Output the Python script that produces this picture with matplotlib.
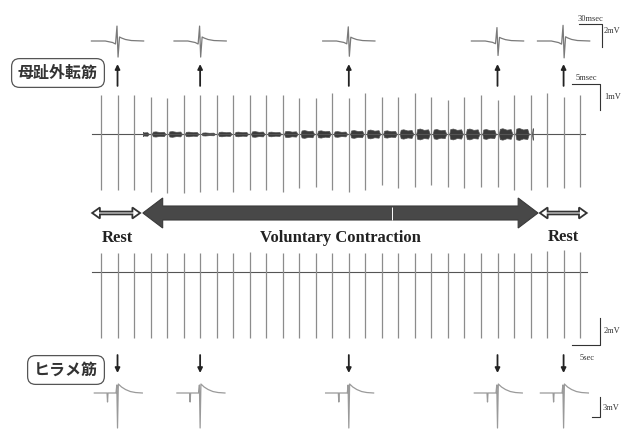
import matplotlib.pyplot as plt
import numpy as np
from matplotlib.patches import Polygon

plt.rcParams['font.family'] = ['Liberation Serif', 'DejaVu Serif']

W, H = 621, 430

# ---------------- data ----------------
# stimulus times (s), one every ~3 s
stim_times = [0, 3, 6, 9, 12, 15, 18, 21, 24, 27, 30, 33, 36, 39, 42,
              45, 48, 51, 54, 57, 60, 63, 66, 69, 72, 75, 78, 81, 84, 87]

# abductor hallucis (top trace): stimulus artefact size (mV)
ah_up = [1.50, 1.50, 1.50, 1.42, 1.38, 1.50, 1.50, 1.50, 1.50, 1.50,
         1.50, 1.50, 1.38, 1.38, 1.58, 1.38, 1.58, 1.42, 1.42, 1.58,
         1.42, 1.31, 1.42, 1.50, 1.31, 1.50, 1.50, 1.58, 1.42, 1.50]
ah_down = [2.15, 2.15, 2.15, 2.23, 2.27, 2.27, 2.23, 2.15, 2.23, 2.15,
           2.15, 2.23, 2.08, 2.04, 2.15, 2.23, 2.15, 1.96, 2.08, 2.04,
           1.96, 2.04, 2.08, 2.04, 2.04, 2.15, 2.15, 2.04, 2.08, 2.04]

# soleus (bottom trace): stimulus artefact size (mV)
sol_up = [1.40, 1.40, 1.40, 1.40, 1.40, 1.40, 1.40, 1.40, 1.40, 1.50,
          1.40, 1.40, 1.40, 1.40, 1.40, 1.40, 1.40, 1.40, 1.40, 1.40,
          1.40, 1.40, 1.40, 1.40, 1.40, 1.40, 1.40, 1.55, 1.60, 1.45]
sol_down = [4.90, 4.90, 4.90, 4.90, 4.90, 4.90, 4.90, 4.90, 4.90, 4.90,
            4.90, 4.90, 4.90, 4.90, 4.90, 4.90, 4.90, 4.90, 4.90, 4.90,
            4.90, 4.90, 4.90, 4.90, 4.90, 4.90, 4.90, 4.90, 4.90, 4.90]

# voluntary contraction period (s) and EMG envelope per stimulus interval (mV)
contraction = (7.6, 78.4)
emg_first_interval = 2
emg_env = [0.08, 0.10, 0.11, 0.09, 0.06, 0.09, 0.09, 0.11, 0.09, 0.12,
           0.15, 0.14, 0.11, 0.15, 0.17, 0.14, 0.18, 0.21, 0.19, 0.21,
           0.21, 0.19, 0.22, 0.23, 0.22]
burst_frac = [0.08, 0.14, 0.3, 0.55, 0.8, 0.9]
burst_shape = [0.0, 0.9, 1.0, 0.75, 0.85, 0.0]

# stimuli whose single responses are shown enlarged
wave_stims = [1, 6, 15, 24, 28]

# abductor hallucis M-wave (ms, mV)
ah_ms = [-34, -16, -6.5, -2.6, -0.7, 0.7, 2.6, 5.2, 10.4, 18, 34]
ah_mv = [0, 0, -0.13, -0.26, 1.3, -1.4, 0.35, 0.26, 0.13, 0.04, 0]
ah_gain = [1.0, 1.0, 0.95, 0.9, 1.05]

# soleus response (ms, mV)
sol_ms = [-29, -13.1, -12.5, -11.9, -1.9, -0.9, 0, 1.0, 5, 10, 16, 22.5, 31]
sol_mv = [0, 0, -1.35, 0, 0, 1.2, -5.25, 1.35, 0.9, 0.52, 0.22, 0.07, 0]
sol_gain = [1.0, 1.0, 1.0, 1.0, 1.0]

# ---------------- figure ----------------
fig = plt.figure(figsize=(W / 100, H / 100), dpi=100)


def px_axes(left, top, right, bottom):
    ax = fig.add_axes([left / W, 1 - bottom / H, (right - left) / W, (bottom - top) / H])
    ax.axis('off')
    return ax


def double_arrow(ax, x0, x1, y, body, head, hlen, fc, ec, lw):
    xs = [x0, x0 + hlen, x0 + hlen, x1 - hlen, x1 - hlen, x1, x1 - hlen, x1 - hlen, x0 + hlen, x0 + hlen]
    ys = [y, y - head, y - body, y - body, y - head, y, y + head, y + body, y + body, y + head]
    ax.add_patch(Polygon(list(zip(xs, ys)), closed=True, fc=fc, ec=ec, lw=lw, joinstyle='miter'))


t_lim = (-101 / 5.507, (W - 101) / 5.507)
small = dict(fontsize=6, color='#333333')

# top trace
ax_top = px_axes(0, 75, W, 195)
ax_top.set_xlim(t_lim)
ax_top.set_ylim(-2.35, 2.27)
ax_top.plot([-1.6, 87.9], [0, 0], color='#555555', lw=0.8)
for k, env in enumerate(emg_env):
    t0 = stim_times[emg_first_interval + k]
    tt = np.clip([t0 + f * 3 for f in burst_frac], *contraction)
    yy = np.array(burst_shape) * env
    ax_top.fill_between(tt, -yy, yy, color='#3a3a3a', lw=0.5, edgecolor='#555555')
ax_top.vlines(stim_times, [-d for d in ah_down], ah_up, color='#8c8c8c', lw=0.9)
for i in wave_stims:
    ax_top.annotate('', xy=(stim_times[i], 2.69), xytext=(stim_times[i], 1.85),
                    arrowprops=dict(arrowstyle='-|>', color='#222222', lw=1.3,
                                    mutation_scale=7, shrinkA=0, shrinkB=0),
                    annotation_clip=False)
ax_top.plot([85.6, 90.6, 90.6], [1.92, 1.92, 0.92], color='#333333', lw=0.8, clip_on=False)
ax_top.text(88.1, 2.0, '5msec', ha='center', va='bottom', **small)
ax_top.text(91.3, 1.42, '1mV', ha='left', va='center', **small)

# bottom trace
ax_bot = px_axes(0, 245, W, 380)
ax_bot.set_xlim(t_lim)
ax_bot.set_ylim(-8.0, 2.0)
ax_bot.plot([-1.6, 88.2], [0, 0], color='#555555', lw=0.8)
ax_bot.vlines(stim_times, [-d for d in sol_down], sol_up, color='#8c8c8c', lw=0.9)
for i in wave_stims:
    ax_bot.annotate('', xy=(stim_times[i], -7.48), xytext=(stim_times[i], -6.15),
                    arrowprops=dict(arrowstyle='-|>', color='#222222', lw=1.3,
                                    mutation_scale=7, shrinkA=0, shrinkB=0),
                    annotation_clip=False)
ax_bot.plot([85.6, 90.6, 90.6], [-5.41, -5.41, -3.41], color='#333333', lw=0.8, clip_on=False)
ax_bot.text(91.3, -4.4, '2mV', ha='left', va='center', **small)
ax_bot.text(88.3, -6.1, '5sec', ha='center', va='top', **small)

# middle: periods
ax_mid = px_axes(0, 195, W, 250)
ax_mid.set_xlim(t_lim)
ax_mid.set_ylim(55, 0)
double_arrow(ax_mid, -1.6, 7.1, 18, 1.4, 5.5, 1.4, 'white', '#333333', 1.3)
double_arrow(ax_mid, contraction[0], 79.35, 18, 7, 15, 3.6, '#484848', '#3a3a3a', 0.8)
double_arrow(ax_mid, 79.7, 88.2, 18, 1.4, 5.5, 1.4, 'white', '#333333', 1.3)
ax_mid.vlines(52.8, 11.5, 24.5, color='white', lw=0.7)
ax_mid.text(3.0, 43, 'Rest', fontsize=12, fontweight='bold', ha='center', va='center', color='#222222')
ax_mid.text(43.5, 43, 'Voluntary Contraction', fontsize=12, fontweight='bold',
            ha='center', va='center', color='#222222')
ax_mid.text(84.0, 42, 'Rest', fontsize=12, fontweight='bold', ha='center', va='center', color='#222222')

# enlarged single responses
for n, i in enumerate(wave_stims):
    cx = ax_top.transData.transform((stim_times[i], 0))[0]
    ax_w = px_axes(cx - 35, 20, cx + 35, 62)
    ax_w.set_xlim(-45.6, 45.6)
    ax_w.set_ylim(-1.83, 1.83)
    ax_w.plot(ah_ms, [v * ah_gain[n] for v in ah_mv], color='#7a7a7a', lw=0.9)

    ax_s = px_axes(cx - 35, 372, cx + 35, 430)
    ax_s.set_xlim(-43.75, 43.75)
    ax_s.set_ylim(-5.55, 3.15)
    ax_s.plot(sol_ms, [v * sol_gain[n] for v in sol_mv], color='#9a9a9a', lw=0.9)

ax_w.plot([20, 50, 50], [1.48, 1.48, -0.52], color='#333333', lw=0.8, clip_on=False)
ax_w.text(35, 1.6, '30msec', ha='center', va='bottom', **small)
ax_w.text(52.5, 0.87, '2mV', ha='left', va='center', **small)
ax_s.plot([35, 45, 45], [-3.6, -3.6, -0.6], color='#333333', lw=0.8, clip_on=False)
ax_s.text(49, -2.25, '3mV', ha='left', va='center', **small)

# muscle labels
box = dict(boxstyle='round,pad=0.4,rounding_size=0.5', fc='white', ec='#555555', lw=0.9)
fig.text(58 / W, 1 - 73 / H, '母趾外転筋', family=['Noto Sans CJK JP', 'DejaVu Sans'],
         fontsize=11.5, fontweight='bold', ha='center', va='center', color='#333333', bbox=box)
fig.text(66 / W, 1 - 370 / H, 'ヒラメ筋', family=['Noto Sans CJK JP', 'DejaVu Sans'],
         fontsize=11.5, fontweight='bold', ha='center', va='center', color='#333333', bbox=box)

fig.savefig('out.png', dpi=100)
